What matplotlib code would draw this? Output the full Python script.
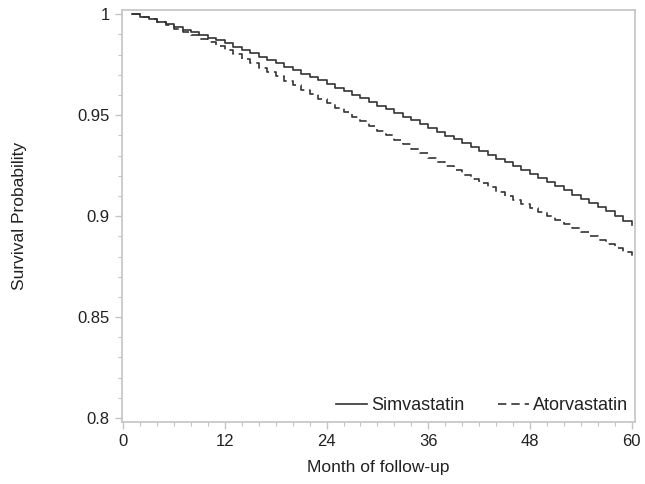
import matplotlib.pyplot as plt
from matplotlib.ticker import MultipleLocator

# Kaplan-Meier estimates, one value per month (1..60)
months = list(range(1, 61))

simva = [
    1.0000, 0.9988, 0.9976, 0.9962, 0.9950, 0.9937, 0.9924, 0.9911, 0.9898, 0.9884,
    0.9870, 0.9856, 0.9840, 0.9823, 0.9807, 0.9790, 0.9774, 0.9757, 0.9740, 0.9723,
    0.9706, 0.9689, 0.9672, 0.9655, 0.9637, 0.9619, 0.9601, 0.9583, 0.9565, 0.9547,
    0.9529, 0.9510, 0.9492, 0.9474, 0.9456, 0.9437, 0.9418, 0.9399, 0.9380, 0.9361,
    0.9342, 0.9323, 0.9304, 0.9285, 0.9266, 0.9247, 0.9228, 0.9209, 0.9188, 0.9168,
    0.9147, 0.9127, 0.9106, 0.9086, 0.9065, 0.9044, 0.9024, 0.9003, 0.8978, 0.8958,
]

atorva = [
    1.0000, 0.9988, 0.9974, 0.9960, 0.9945, 0.9929, 0.9913, 0.9896, 0.9878, 0.9860,
    0.9841, 0.9822, 0.9801, 0.9780, 0.9758, 0.9736, 0.9714, 0.9692, 0.9670, 0.9648,
    0.9626, 0.9604, 0.9582, 0.9560, 0.9537, 0.9515, 0.9492, 0.9470, 0.9447, 0.9424,
    0.9402, 0.9379, 0.9357, 0.9334, 0.9312, 0.9290, 0.9269, 0.9248, 0.9227, 0.9206,
    0.9185, 0.9164, 0.9143, 0.9122, 0.9101, 0.9080, 0.9059, 0.9040, 0.9020, 0.9000,
    0.8980, 0.8961, 0.8941, 0.8921, 0.8902, 0.8882, 0.8862, 0.8842, 0.8820, 0.8795,
]

x_ticks = [0, 12, 24, 36, 48, 60]
y_ticks = [0.8, 0.85, 0.9, 0.95, 1.0]
y_tick_labels = ["0.8", "0.85", "0.9", "0.95", "1"]

plt.rcParams['font.family'] = ['Liberation Sans', 'DejaVu Sans']

FRAME = "#c4c4c4"
TEXT = "#222222"
LINE = "#333333"

fig = plt.figure(figsize=(6.45, 4.84), dpi=100)
ax = fig.add_axes([0.1884, 0.1287, 0.7961, 0.8503])

ax.plot(months, simva, drawstyle='steps-post', color=LINE, lw=1.2,
        label="Simvastatin")
ax.plot(months, atorva, drawstyle='steps-post', color=LINE, lw=1.2,
        linestyle=(0, (5, 3)), label="Atorvastatin")

ax.set_xlim(-0.2, 60.4)
ax.set_ylim(0.7982, 1.002)
ax.set_xticks(x_ticks)
ax.set_yticks(y_ticks)
ax.set_yticklabels(y_tick_labels)
ax.xaxis.set_minor_locator(MultipleLocator(2))
ax.yaxis.set_minor_locator(MultipleLocator(0.01))

for spine in ax.spines.values():
    spine.set_color(FRAME)
    spine.set_linewidth(1.2)

ax.tick_params(which='both', direction='out', color=FRAME, labelcolor=TEXT,
               labelsize=12)
ax.tick_params(which='major', length=5, width=1)
ax.tick_params(which='minor', length=3, width=0.8)

ax.set_xlabel("Month of follow-up", fontsize=12.5, color=TEXT, labelpad=8)
ax.set_ylabel("Survival Probability", fontsize=12.5, color=TEXT, labelpad=36)

ax.legend(loc='lower right', frameon=False, fontsize=13, handlelength=1.7,
          handletextpad=0.2, columnspacing=1.9, ncol=2, borderaxespad=0.0,
          labelcolor=TEXT)

fig.savefig("out.png", dpi=100)
